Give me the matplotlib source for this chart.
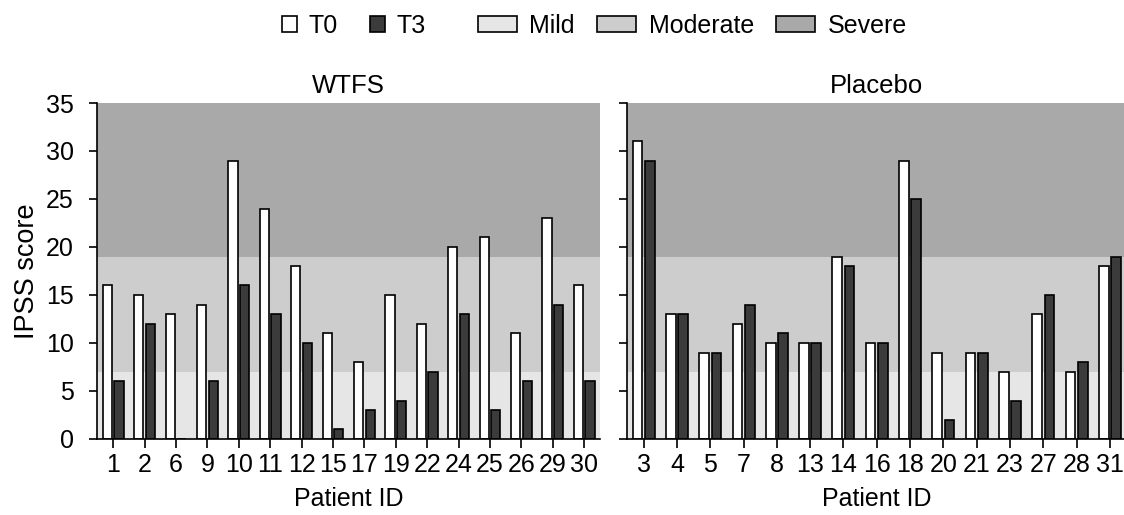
import matplotlib
matplotlib.use('Agg')
import matplotlib.pyplot as plt
from matplotlib.patches import Patch
import numpy as np

plt.rcParams['font.family'] = ['Liberation Sans', 'DejaVu Sans']
plt.rcParams['font.size'] = 18

# данные WTFS
wtfs_ids = ['1', '2', '6', '9', '10', '11', '12', '15', '17', '19', '22', '24', '25', '26', '29', '30']
wtfs_t0 = [16, 15, 13, 14, 29, 24, 18, 11, 8, 15, 12, 20, 21, 11, 23, 16]
wtfs_t3 = [6, 12, 0, 6, 16, 13, 10, 1, 3, 4, 7, 13, 3, 6, 14, 6]

# данные Placebo
plac_ids = ['3', '4', '5', '7', '8', '13', '14', '16', '18', '20', '21', '23', '27', '28', '31']
plac_t0 = [31, 13, 9, 12, 10, 10, 19, 10, 29, 9, 9, 7, 13, 7, 18]
plac_t3 = [29, 13, 9, 14, 11, 10, 18, 10, 25, 2, 9, 4, 15, 8, 19]

# границы тяжести симптомов
bands = [(0, 7, 'Mild'), (7, 19, 'Moderate'), (19, 35, 'Severe')]
band_colors = {'Mild': '#e6e6e6', 'Moderate': '#cdcdcd', 'Severe': '#a9a9a9'}
dark = '#3b3b3b'

fig = plt.figure(figsize=(11.24, 5.15), dpi=100)
ax1 = fig.add_axes([0.0867, 0.1476, 0.447, 0.6524])
ax2 = fig.add_axes([0.5578, 0.1476, 0.4445, 0.6524])


def draw_panel(ax, ids, t0, t3, title, show_labels):
    x = np.arange(len(ids))
    for lo, hi, name in bands:
        ax.axhspan(lo, hi, color=band_colors[name], lw=0, zorder=0)
    w = 0.29
    ax.bar(x - 0.185, t0, w, color='white', edgecolor='black', linewidth=1.2, zorder=2)
    ax.bar(x + 0.185, t3, w, color=dark, edgecolor='black', linewidth=1.2, zorder=2)
    ax.set_xlim(-0.5, len(ids) - 0.5)
    ax.set_ylim(0, 35)
    ax.set_yticks(range(0, 36, 5))
    ax.set_xticks(x)
    ax.set_xticklabels(ids)
    ax.spines['top'].set_visible(False)
    ax.spines['right'].set_visible(False)
    for s in ['left', 'bottom']:
        ax.spines[s].set_linewidth(1.2)
        ax.spines[s].set_zorder(3)
    ax.tick_params(axis='y', length=6, width=1.2, pad=11, labelsize=18)
    ax.tick_params(axis='x', length=6.5, width=1.2, pad=3.5, labelsize=18)
    if not show_labels:
        ax.set_yticklabels([])
    ax.set_title(title, fontsize=18.5, pad=7)
    ax.set_xlabel('Patient ID', fontsize=18, labelpad=7)


draw_panel(ax1, wtfs_ids, wtfs_t0, wtfs_t3, 'WTFS', True)
draw_panel(ax2, plac_ids, plac_t0, plac_t3, 'Placebo', False)
ax1.set_ylabel('IPSS score', fontsize=19.5, labelpad=4)

# легенды
h_time = [Patch(facecolor='white', edgecolor='black', linewidth=1.2, label='T0'),
          Patch(facecolor=dark, edgecolor='black', linewidth=1.2, label='T3')]
fig.legend(handles=h_time, loc='center', bbox_to_anchor=(0.315, 0.95), ncol=2,
           frameon=False, handlelength=0.6, handleheight=0.65, handletextpad=0.45,
           columnspacing=1.3, fontsize=18)

h_band = [Patch(facecolor=band_colors[n], edgecolor='black', linewidth=1.2, label=n) for _, _, n in bands]
fig.legend(handles=h_band, loc='center', bbox_to_anchor=(0.616, 0.95), ncol=3,
           frameon=False, handlelength=1.55, handleheight=0.65, handletextpad=0.5,
           columnspacing=0.9, fontsize=18)

fig.savefig('out.png', dpi=100)
